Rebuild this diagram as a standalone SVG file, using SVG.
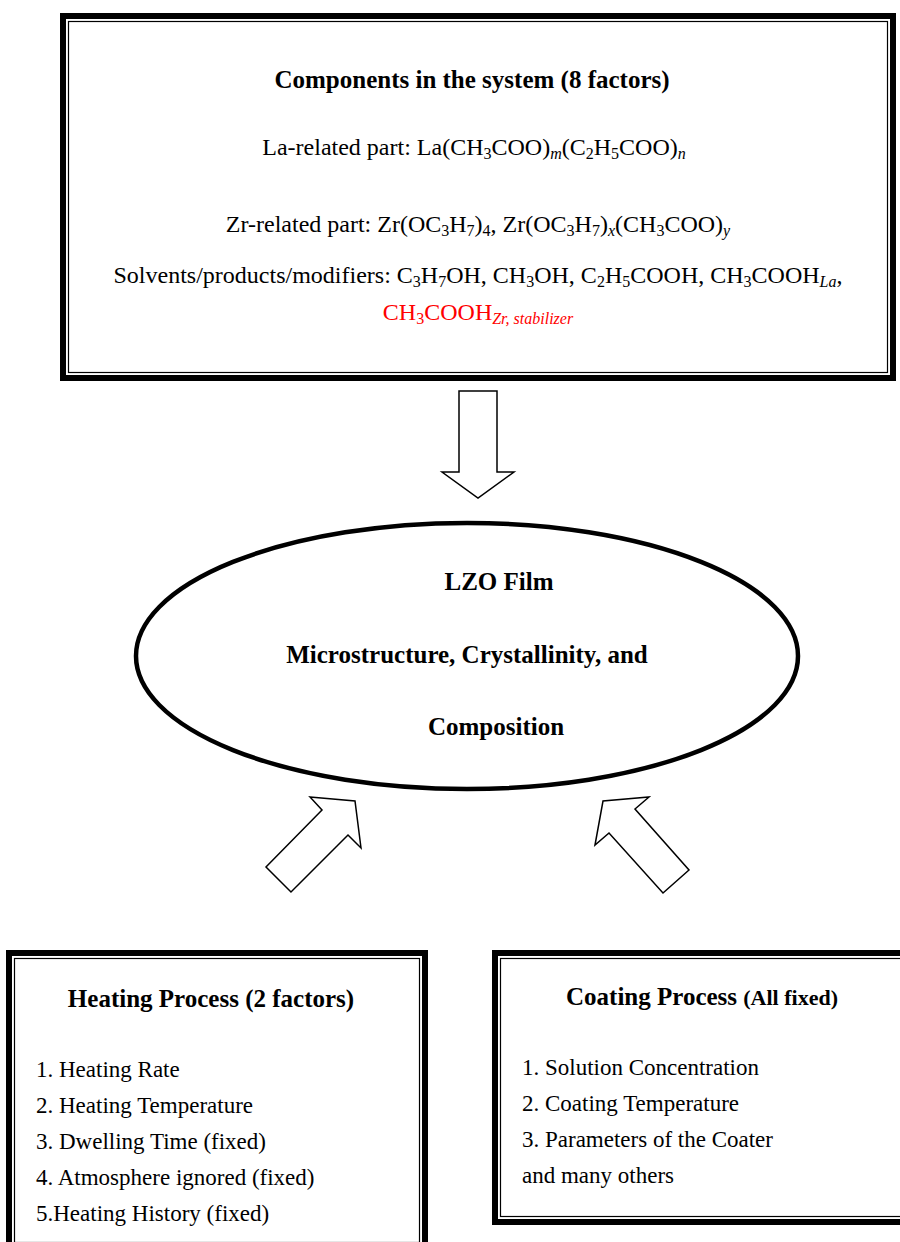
<svg xmlns="http://www.w3.org/2000/svg" width="900" height="1242" viewBox="0 0 900 1242">
<style>
.t{font-family:"Liberation Serif","Times New Roman",serif;font-size:23px;fill:#000}
.top{font-size:24px}
.b{font-weight:bold;font-size:25px}
.s{font-size:16px}
.i{font-style:italic}
.red{fill:#ff0000}
.thick{fill:none;stroke:#000;stroke-width:6}
.thin{fill:none;stroke:#000;stroke-width:1.2}
.arrow{fill:#fff;stroke:#000;stroke-width:1.5;stroke-linejoin:miter}
</style>
<rect width="900" height="1242" fill="#fff"/>
<g id="components">
<rect class="thick" x="63" y="16" width="830" height="362"/>
<rect class="thin" x="68.5" y="21.5" width="819" height="351"/>
<text class="t b" x="472" y="88" text-anchor="middle">Components in the system (8 factors)</text>
<text class="t top" x="474" y="155" text-anchor="middle">La-related part: La(CH<tspan class="s" dy="4">3</tspan><tspan dy="-4">COO)</tspan><tspan class="s i" dy="4">m</tspan><tspan dy="-4">(C</tspan><tspan class="s" dy="4">2</tspan><tspan dy="-4">H</tspan><tspan class="s" dy="4">5</tspan><tspan dy="-4">COO)</tspan><tspan class="s i" dy="4">n</tspan></text>
<text class="t top" x="478" y="232" text-anchor="middle">Zr-related part: Zr(OC<tspan class="s" dy="4">3</tspan><tspan dy="-4">H</tspan><tspan class="s" dy="4">7</tspan><tspan dy="-4">)</tspan><tspan class="s" dy="4">4</tspan><tspan dy="-4">, Zr(OC</tspan><tspan class="s" dy="4">3</tspan><tspan dy="-4">H</tspan><tspan class="s" dy="4">7</tspan><tspan dy="-4">)</tspan><tspan class="s i" dy="4">x</tspan><tspan dy="-4">(CH</tspan><tspan class="s" dy="4">3</tspan><tspan dy="-4">COO)</tspan><tspan class="s i" dy="4">y</tspan></text>
<text class="t top" x="478" y="283" text-anchor="middle">Solvents/products/modifiers: C<tspan class="s" dy="4">3</tspan><tspan dy="-4">H</tspan><tspan class="s" dy="4">7</tspan><tspan dy="-4">OH, CH</tspan><tspan class="s" dy="4">3</tspan><tspan dy="-4">OH, C</tspan><tspan class="s" dy="4">2</tspan><tspan dy="-4">H</tspan><tspan class="s" dy="4">5</tspan><tspan dy="-4">COOH, CH</tspan><tspan class="s" dy="4">3</tspan><tspan dy="-4">COOH</tspan><tspan class="s i" dy="4">La</tspan><tspan dy="-4">,</tspan></text>
<text class="t top red" x="478" y="320" text-anchor="middle">CH<tspan class="s" dy="4">3</tspan><tspan dy="-4">COOH</tspan><tspan class="s i" dy="4">Zr, stabilizer</tspan></text>
</g>
<g id="lzo-film">
<ellipse cx="467" cy="656" rx="331" ry="133" fill="#fff" stroke="#000" stroke-width="4.5"/>
<text class="t b" x="499" y="590" text-anchor="middle">LZO Film</text>
<text class="t b" x="467" y="663" text-anchor="middle">Microstructure, Crystallinity, and</text>
<text class="t b" x="496" y="735" text-anchor="middle">Composition</text>
</g>
<g id="heating">
<rect class="thick" x="9" y="953" width="416" height="295"/>
<rect class="thin" x="14.5" y="958.5" width="405" height="284"/>
<text class="t b" x="211" y="1007" text-anchor="middle">Heating Process (2 factors)</text>
<text class="t" x="36" y="1077">1. Heating Rate</text>
<text class="t" x="36" y="1113">2. Heating Temperature</text>
<text class="t" x="36" y="1149">3. Dwelling Time (fixed)</text>
<text class="t" x="36" y="1185">4. Atmosphere ignored (fixed)</text>
<text class="t" x="36" y="1221">5.Heating History (fixed)</text>
</g>
<g id="coating">
<rect class="thick" x="495" y="953" width="410" height="269"/>
<rect class="thin" x="500.5" y="958.5" width="410" height="258"/>
<text class="t b" x="702" y="1005" text-anchor="middle">Coating Process <tspan font-size="22">(All fixed)</tspan></text>
<text class="t" x="522" y="1075">1. Solution Concentration</text>
<text class="t" x="522" y="1111">2. Coating Temperature</text>
<text class="t" x="522" y="1147">3. Parameters of the Coater</text>
<text class="t" x="522" y="1183">and many others</text>
</g>
<g id="connectors">
<polygon class="arrow" points="459,391 497,391 497,472 514,472 478,498 442,472 459,472"/>
<polygon class="arrow" points="310,797 355,801 361,848 348,835 291,892 266,867 322,810"/>
<polygon class="arrow" points="595,845 603,801 649,797 635,809 689,870 663,893 609,833"/>
</g>
</svg>
